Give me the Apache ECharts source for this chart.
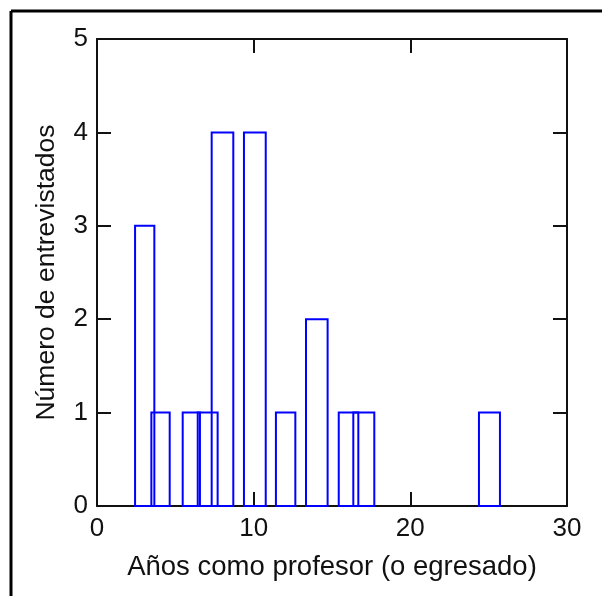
<!DOCTYPE html>
<html>
<head>
<meta charset="utf-8">
<script src="https://cdn.jsdelivr.net/npm/echarts@6/dist/echarts.min.js"></script>
<style>
  html, body { margin: 0; padding: 0; background: #fff; }
  #main { width: 602px; height: 596px; }
</style>
</head>
<body>
<div id="main"></div>
<script>
// left and right edges of each bar (years) and how many interviewees
var binStart = [2.43, 3.47, 5.47, 6.43, 7.32, 9.38, 11.42, 13.34, 15.43, 16.36, 24.38];
var binEnd   = [3.66, 4.64, 6.57, 7.70, 8.70, 10.77, 12.66, 14.72, 16.68, 17.70, 25.72];
var counts   = [3, 1, 1, 1, 4, 4, 1, 2, 1, 1, 1];

var xTicks = [0, 10, 20, 30];
var yTicks = [0, 1, 2, 3, 4, 5];

var font = 'Liberation Sans, Arial, sans-serif';
var bars = binStart.map(function (s, i) { return [s, binEnd[i], counts[i]]; });

var chart = echarts.init(document.getElementById('main'));

var tickStyle = { show: true, inside: true, length: 14, lineStyle: { color: '#111', width: 2 } };
var lineStyle = { show: true, onZero: false, lineStyle: { color: '#111', width: 2 } };

chart.setOption({
  animation: false,
  backgroundColor: '#fff',
  grid: { left: 97, top: 39, width: 470, height: 467, containLabel: false },
  xAxis: [
    {
      type: 'value', min: xTicks[0], max: xTicks[xTicks.length - 1], interval: 10,
      position: 'bottom',
      axisLine: lineStyle, axisTick: tickStyle, splitLine: { show: false },
      axisLabel: { color: '#111', fontFamily: font, fontSize: 26, margin: 10 },
      name: 'Años como profesor (o egresado)', nameLocation: 'middle', nameGap: 47,
      nameTextStyle: { color: '#111', fontFamily: font, fontSize: 27.5 }
    },
    {
      type: 'value', min: 0, max: 30, interval: 10, position: 'top',
      axisLine: lineStyle, axisTick: tickStyle, splitLine: { show: false },
      axisLabel: { show: false }
    }
  ],
  yAxis: [
    {
      type: 'value', min: yTicks[0], max: yTicks[yTicks.length - 1], interval: 1,
      position: 'left',
      axisLine: lineStyle, axisTick: tickStyle, splitLine: { show: false },
      axisLabel: { color: '#111', fontFamily: font, fontSize: 26, margin: 9 },
      name: 'Número de entrevistados', nameLocation: 'middle', nameGap: 37,
      nameTextStyle: { color: '#111', fontFamily: font, fontSize: 26.5 }
    },
    {
      type: 'value', min: 0, max: 5, interval: 1, position: 'right',
      axisLine: lineStyle, axisTick: tickStyle, splitLine: { show: false },
      axisLabel: { show: false }
    }
  ],
  series: [{
    type: 'custom',
    data: bars,
    encode: { x: [0, 1], y: 2 },
    renderItem: function (params, api) {
      var p0 = api.coord([api.value(0), api.value(2)]);
      var p1 = api.coord([api.value(1), 0]);
      return {
        type: 'rect',
        shape: { x: p0[0], y: p0[1], width: p1[0] - p0[0], height: p1[1] - p0[1] },
        style: { fill: 'none', stroke: '#0000ff', lineWidth: 2 }
      };
    }
  }],
  graphic: [
    { type: 'line', shape: { x1: 11, y1: 11, x2: 602, y2: 11 }, style: { stroke: '#000', lineWidth: 3 } },
    { type: 'line', shape: { x1: 11, y1: 11, x2: 11, y2: 596 }, style: { stroke: '#000', lineWidth: 3 } }
  ]
});
</script>
</body>
</html>
